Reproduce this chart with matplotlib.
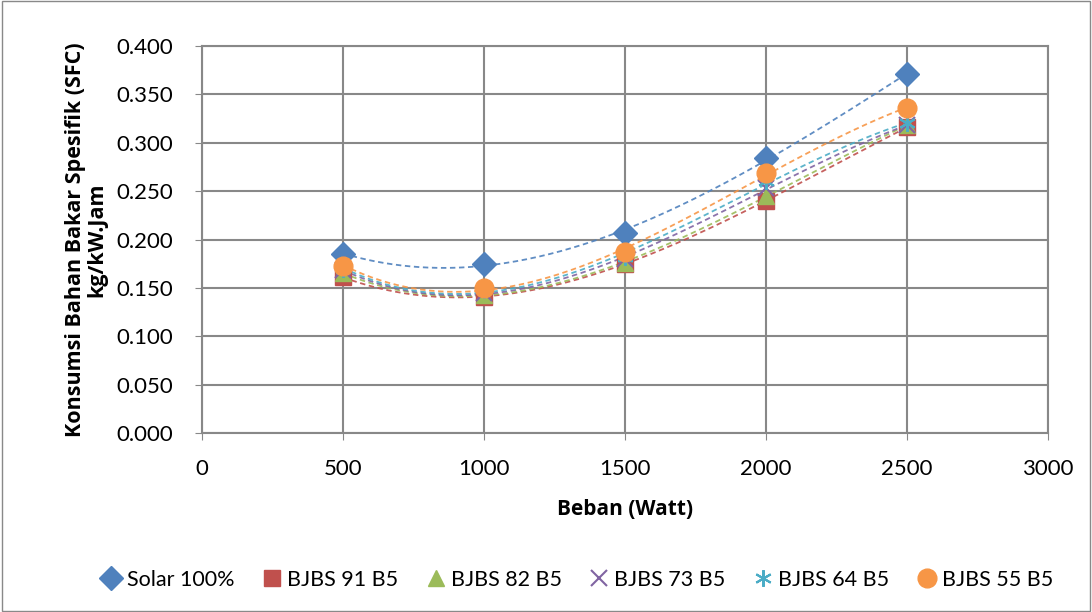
import numpy as np
import matplotlib.pyplot as plt

# Data
beban = [500, 1000, 1500, 2000, 2500]
solar_100 = [0.185, 0.175, 0.207, 0.284, 0.371]
bjbs_91 = [0.161, 0.141, 0.175, 0.240, 0.316]
bjbs_82 = [0.165, 0.143, 0.176, 0.245, 0.318]
bjbs_73 = [0.168, 0.145, 0.180, 0.253, 0.318]
bjbs_64 = [0.170, 0.148, 0.182, 0.260, 0.320]
bjbs_55 = [0.173, 0.150, 0.187, 0.269, 0.336]

labels = ["Solar 100%", "BJBS 91 B5", "BJBS 82 B5", "BJBS 73 B5", "BJBS 64 B5", "BJBS 55 B5"]
series = [solar_100, bjbs_91, bjbs_82, bjbs_73, bjbs_64, bjbs_55]
colors = ["#4F81BD", "#C0504D", "#9BBB59", "#8064A2", "#4BACC6", "#F79646"]
markers = ["D", "s", "^", "x", (6, 2, 0), "o"]
msizes = [12, 11, 12, 12, 12, 13.5]

plt.rcParams['font.family'] = ['Lato', 'DejaVu Sans']

fig = plt.figure(figsize=(10.92, 6.12), dpi=100)
ax = fig.add_axes([202 / 1092, 1 - 433 / 612, (1048 - 202) / 1092, (433 - 46) / 612])

# outer chart border
fig.patches.append(plt.Rectangle((0.002, 0.002), 0.996, 0.996, transform=fig.transFigure,
                                 fill=False, edgecolor="#898989", linewidth=1))

# trendlines (polynomial) plus markers
xs = np.linspace(beban[0], beban[-1], 200)
for y, lab, c, m, ms in zip(series, labels, colors, markers, msizes):
    coef = np.polyfit(beban, y, 3)
    ax.plot(xs, np.polyval(coef, xs), linestyle=(0, (3, 2)), color=c, linewidth=1.3, alpha=0.9, zorder=2)
    if m == "x" or isinstance(m, tuple):
        ax.plot(beban, y, linestyle="none", marker=m, markersize=ms, color=c,
                markeredgewidth=1.5, label=lab, zorder=3)
    else:
        ax.plot(beban, y, linestyle="none", marker=m, markersize=ms, color=c,
                markeredgecolor=c, label=lab, zorder=3)

ax.set_xlim(0, 3000)
ax.set_ylim(0, 0.4)
ax.set_xticks(np.arange(0, 3001, 500))
ax.set_yticks(np.arange(0, 0.401, 0.05))
ax.set_yticklabels([f"{v:.3f}" for v in np.arange(0, 0.401, 0.05)])
ax.grid(True, color="#888888", linewidth=1.5)
ax.set_axisbelow(True)
for s in ax.spines.values():
    s.set_color("#888888")
    s.set_linewidth(1.5)
ax.tick_params(axis="both", labelsize=16, length=5, color="#888888")
ax.tick_params(axis="x", pad=14)
ax.tick_params(axis="y", pad=16)

ax.set_xlabel("Beban (Watt)", fontsize=15, fontweight="bold", labelpad=14, family="Open Sans")
ax.set_ylabel("Konsumsi Bahan Bakar Spesifik (SFC)\nkg/kW.Jam", fontsize=15.5, fontweight="bold",
              labelpad=6, linespacing=1.05, family="Open Sans")

fig.legend(loc="center", bbox_to_anchor=(0.527, 1 - 580 / 612), ncol=6, frameon=False,
           fontsize=15.5, handletextpad=0.05, columnspacing=1.1, handlelength=1.3)

fig.savefig("out.png", dpi=100)
